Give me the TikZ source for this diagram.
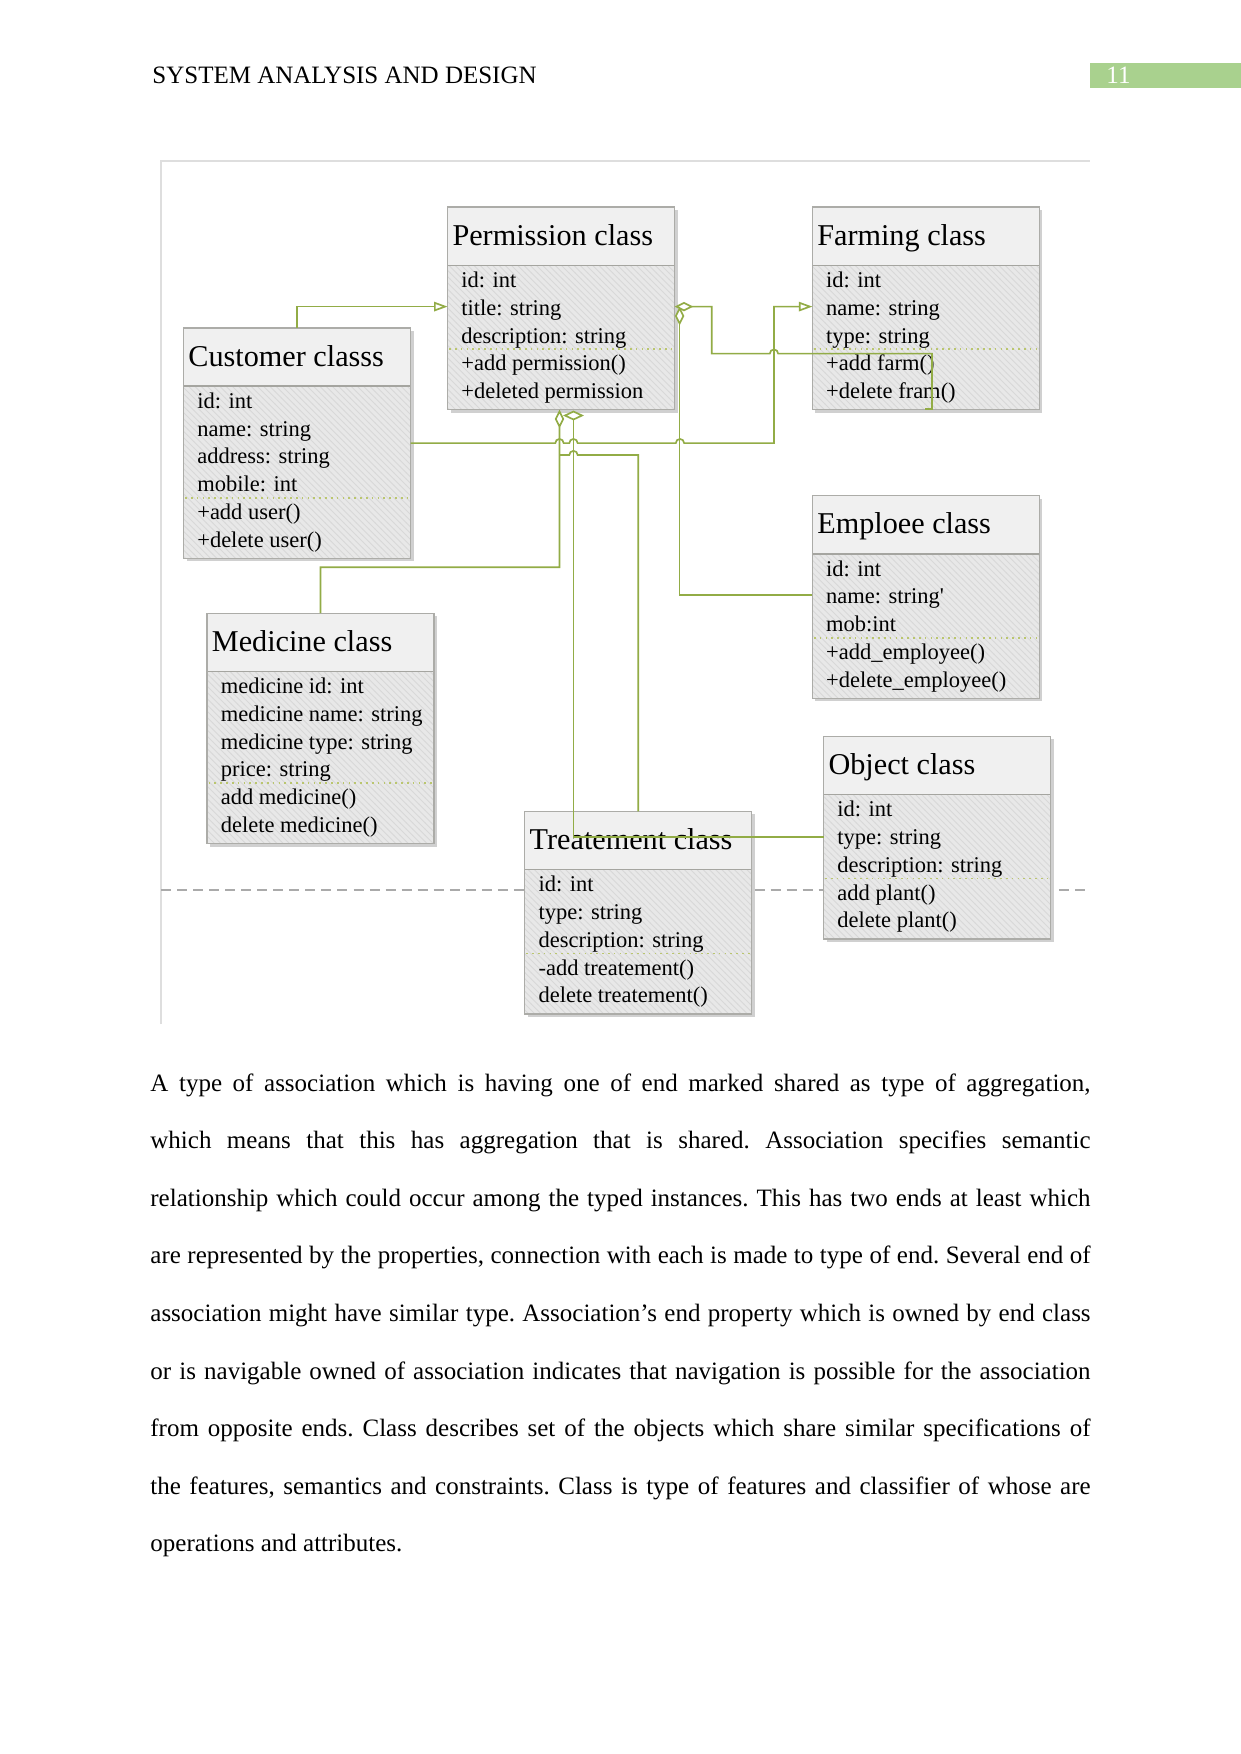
\documentclass[tikz,border=0pt]{standalone}
\usepackage{fontspec}
\setmainfont{Liberation Serif}
\newfontfamily\straightq[Ligatures=TeXOff]{Liberation Serif}
\usetikzlibrary{arrows.meta,calc,patterns}
\definecolor{connc}{RGB}{146,172,70}
\definecolor{pagec}{RGB}{169,209,142}
\definecolor{borderc}{RGB}{172,172,168}
\definecolor{headc}{RGB}{240,240,240}
\definecolor{bodyc}{RGB}{232,232,232}
\definecolor{hatchc}{RGB}{216,216,216}
\definecolor{shadowc}{RGB}{208,208,208}
\definecolor{sepc}{RGB}{186,198,110}
\definecolor{divc}{RGB}{165,165,160}
\definecolor{framec}{RGB}{222,222,222}
\definecolor{dashc}{RGB}{170,170,170}
\tikzset{
  conn/.style={draw=connc, line width=0.8pt},
  opentri/.style={-{Triangle[open,length=6.5pt,width=4.5pt,fill=white]}},
  diamstart/.style={{Diamond[open,length=9pt,width=4.5pt,fill=white]}-},
  classbox/.style={fill=bodyc, draw=none, minimum width=108.96pt, anchor=north west, inner sep=0pt, outer sep=0pt},
  titletext/.style={anchor=base west, inner sep=0pt, font=\fontsize{14.5}{17}\selectfont},
  rowtext/.style={anchor=base west, inner sep=0pt, font=\fontsize{10.8}{13}\selectfont},
  paraline/.style={anchor=base west, inner sep=0pt, font=\fontsize{12}{14}\selectfont\frenchspacing},
}
% #1 name, #2 x, #3 y, #4 rows, #5 attribute rows, #6 title, #7 row list
\newcommand\umlclass[7]{%
  \pgfmathsetmacro\bh{91.7+(#4-1)*27.75}%
  \pgfmathsetmacro\sy{72.7+(#5-0.5)*27.75}%
  \fill[shadowc] (#2+3,#3+3) rectangle ++(227,\bh);
  \node[classbox, minimum height=\bh*0.48pt] (#1) at (#2,#3) {};
  \fill[pattern=north west lines, pattern color=hatchc] (#1.north west) rectangle (#1.south east);
  \fill[headc] (#1.north west) rectangle ($(#1.north east)+(0,58.2)$);
  \draw[divc, line width=0.6pt] ($(#1.north west)+(0,58.2)$) -- ($(#1.north east)+(0,58.2)$);
  \draw[sepc, dotted, line width=0.8pt] ($(#1.north west)+(1.5,\sy)$) -- ($(#1.north east)+(-1.5,\sy)$);
  \draw[borderc, line width=0.6pt] (#1.north west) rectangle (#1.south east);
  \node[titletext] (#1-t) at ($(#1.north west)+(4.5,38.2)$) {#6};
  \foreach \r [count=\i] in {#7} {\node[rowtext] at ($(#1.north west)+(13.4,{80.5+(\i-1)*27.75})$) {\r};}
}
\begin{document}
\begin{tikzpicture}[x=0.48pt, y=-0.48pt]
\useasboundingbox (0,0) rectangle (1241,1754);
\fill[white] (0,0) rectangle (1241,1754);
% page header
\node[paraline] (hdr) at (152,83) {SYSTEM ANALYSIS AND DESIGN};
\fill[pagec] (1090,62.7) rectangle (1241,88.4);
\node[paraline, text=white] (pgno) at (1106,83) {11};
% frame of the figure
\draw[framec, line width=0.6pt] (161,1024) -- (161,161) -- (1090,161);
\draw[dashc, line width=0.6pt, dash pattern=on 4.8pt off 2.9pt] (161,890) -- (1090,890);
% classes
\umlclass{perm}{447.6}{207}{5}{3}{Permission class}{id: int, title: string, description: string, +add permission(), +deleted permission}
\umlclass{farm}{812.4}{207}{5}{3}{Farming class}{id: int, name: string, type: string, +add farm(), +delete fram()}
\umlclass{cust}{183.5}{327.9}{6}{4}{Customer classs}{id: int, name: string, address: string, mobile: int, +add user(), +delete user()}
\umlclass{med}{207}{613.2}{6}{4}{Medicine class}{medicine id: int, medicine name: string, medicine type: string, price: string, add medicine(), delete medicine()}
\umlclass{emp}{812.4}{495.7}{5}{3}{Emploee class}{id: int, name: string{\straightq '}, mob:int, +add\_employee(), +delete\_employee()}
\umlclass{obj}{823.6}{736.3}{5}{3}{Object class}{id: int, type: string, description: string, add plant(), delete plant()}
\umlclass{treat}{524.8}{811.3}{5}{3}{Treatement class}{id: int, type: string, description: string, -add treatement(), delete treatement()}
% connectors
\coordinate (pA) at ($(perm.north west)+(0,99.6)$);
\coordinate (pB) at ($(perm.north east)+(0,99.6)$);
\coordinate (pC) at ($(perm.north east)+(5,99.6)$);
\coordinate (eC) at ($(emp.north west)+(0,99.6)$);
\coordinate (fD) at ($(farm.north west)+(0,99.6)$);
\coordinate (fB) at (925,409);
\coordinate (pE) at ($(perm.south)+(-1.6,0)$);
\coordinate (jF) at (559.5,455);
\coordinate (pG) at (573.5,419.5);
\coordinate (oG) at ($(obj.north west)+(0,100.7)$);
\draw[conn, opentri] (cust.north) |- (pA);
\draw[conn, diamstart] (pB) -- (711.7,306.6) -- (711.7,353.6) -- (769.8,353.6)
  arc[start angle=180, end angle=0, radius=2pt] -- (932,353.6) -- (932,409) -- (fB);
\draw[conn, diamstart] (pC) |- (eC);
\draw[conn, opentri] (cust.east) -- (555.3,443.1)
  arc[start angle=180, end angle=0, radius=2pt] -- (569.3,443.1)
  arc[start angle=180, end angle=0, radius=2pt] -- (675.8,443.1)
  arc[start angle=180, end angle=0, radius=2pt] -- (774,443.1) |- (fD);
\draw[conn, diamstart] (pE) -- (559.5,567.3) -| (med.north);
\draw[conn] (jF) -- (569.3,455) arc[start angle=180, end angle=0, radius=2pt] -| (treat.north);
\draw[conn, fill=white] (565,415.5) -- (573.5,411.5) -- (582,415.5) -- (pG) -- cycle;
\draw[conn] (pG) |- (oG);
% paragraph
\node[paraline] (l1) at (150,1091) {\makebox[451.3pt][s]{A type of association which is having one of end marked shared as type of aggregation,}};
\node[paraline] (l2) at (150,1148.6) {\makebox[451.3pt][s]{which means that this has aggregation that is shared. Association specifies semantic}};
\node[paraline] (l3) at (150,1206.2) {\makebox[451.3pt][s]{relationship which could occur among the typed instances. This has two ends at least which}};
\node[paraline] (l4) at (150,1263.8) {\makebox[451.3pt][s]{are represented by the properties, connection with each is made to type of end. Several end of}};
\node[paraline] (l5) at (150,1321.4) {\makebox[451.3pt][s]{association might have similar type. Association’s end property which is owned by end class}};
\node[paraline] (l6) at (150,1379) {\makebox[451.3pt][s]{or is navigable owned of association indicates that navigation is possible for the association}};
\node[paraline] (l7) at (150,1436.6) {\makebox[451.3pt][s]{from opposite ends. Class describes set of the objects which share similar specifications of}};
\node[paraline] (l8) at (150,1494.2) {\makebox[451.3pt][s]{the features, semantics and constraints. Class is type of features and classifier of whose are}};
\node[paraline] (l9) at (150,1551.8) {operations and attributes.};
\end{tikzpicture}
\end{document}
